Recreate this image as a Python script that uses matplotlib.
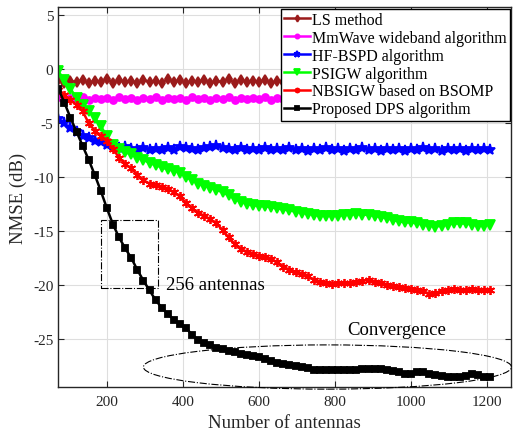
import numpy as np
import matplotlib
matplotlib.use("Agg")
from matplotlib import pyplot as plt
from matplotlib.patches import Rectangle, Ellipse

plt.rcParams['font.family'] = ['Liberation Serif', 'DejaVu Serif']
plt.rcParams['axes.unicode_minus'] = False

# number of antennas (one point every 16 antennas)
antennas = np.arange(72, 1209, 16)

ls_method = [
    -1.0, -1.3, -1.1, -1.2, -1.0, -1.3, -1.1, -1.2,
    -0.9, -1.3, -1.0, -1.2, -1.1, -1.3, -1.0, -1.2,
    -1.1, -1.3, -0.9, -1.2, -1.0, -1.3, -1.1, -1.2,
    -1.0, -1.3, -1.1, -1.2, -0.9, -1.3, -1.0, -1.2,
    -1.1, -1.2, -1.0, -1.3, -1.1, -1.2, -0.9, -1.3,
    -1.0, -1.2, -1.1, -1.3, -1.0, -1.2, -1.1, -1.3,
    -1.0, -1.2, -0.9, -1.3, -1.1, -1.2, -1.0, -1.3,
    -1.1, -1.2, -1.0, -1.3, -1.1, -1.2, -0.9, -1.3,
    -1.0, -1.2, -1.1, -1.3, -1.0, -1.2, -1.1, -1.2,
]
mmwave = [
    -2.6, -2.9, -2.7, -2.8, -2.6, -2.9, -2.7, -2.8,
    -2.7, -2.9, -2.6, -2.8, -2.7, -2.9, -2.7, -2.8,
    -2.6, -2.9, -2.7, -2.8, -2.7, -2.9, -2.6, -2.8,
    -2.7, -2.9, -2.7, -2.8, -2.6, -2.9, -2.7, -2.8,
    -2.7, -2.8, -2.6, -2.9, -2.7, -2.8, -2.7, -2.9,
    -2.6, -2.8, -2.7, -2.9, -2.7, -2.8, -2.6, -2.9,
    -2.7, -2.8, -2.7, -2.9, -2.6, -2.8, -2.7, -2.9,
    -2.7, -2.8, -2.6, -2.9, -2.7, -2.8, -2.7, -2.9,
    -2.6, -2.8, -2.7, -2.9, -2.7, -2.8, -2.6, -2.8,
]
hf_bspd = [
    -4.6, -5.0, -5.5, -5.8, -6.2, -6.4, -6.7, -6.8,
    -7.0, -7.1, -7.3, -7.2, -7.4, -7.5, -7.3, -7.5,
    -7.4, -7.5, -7.3, -7.5, -7.2, -7.3, -7.4, -7.5,
    -7.3, -7.2, -7.1, -7.3, -7.4, -7.5, -7.3, -7.5,
    -7.4, -7.5, -7.3, -7.5, -7.4, -7.5, -7.3, -7.5,
    -7.4, -7.6, -7.4, -7.5, -7.3, -7.5, -7.4, -7.6,
    -7.4, -7.5, -7.3, -7.5, -7.4, -7.6, -7.4, -7.5,
    -7.4, -7.6, -7.4, -7.5, -7.3, -7.5, -7.4, -7.6,
    -7.4, -7.5, -7.4, -7.6, -7.4, -7.5, -7.4, -7.5,
]
psigw = [
    -0.2, -1.0, -1.8, -2.7, -3.3, -3.9, -4.5, -5.3,
    -6.2, -7.0, -7.4, -7.7, -7.9, -8.2, -8.4, -8.7,
    -8.9, -9.1, -9.3, -9.4, -9.6, -10.0, -10.3, -10.6,
    -10.8, -11.0, -11.2, -11.4, -11.7, -12.0, -12.3, -12.5,
    -12.6, -12.7, -12.7, -12.8, -12.9, -13.0, -13.1, -13.2,
    -13.3, -13.4, -13.5, -13.6, -13.6, -13.6, -13.6, -13.5,
    -13.5, -13.4, -13.5, -13.5, -13.6, -13.7, -13.8, -14.0,
    -14.1, -14.2, -14.2, -14.3, -14.4, -14.5, -14.6, -14.5,
    -14.4, -14.3, -14.3, -14.3, -14.4, -14.5, -14.5, -14.4,
]
nbsigw = [
    -1.9, -2.4, -2.9, -3.3, -3.9, -5.0, -5.7, -6.2,
    -6.7, -7.4, -8.2, -8.8, -9.2, -9.8, -10.3, -10.6,
    -10.7, -10.9, -11.1, -11.4, -11.8, -12.4, -12.9, -13.3,
    -13.6, -13.9, -14.3, -14.9, -15.6, -16.2, -16.7, -16.9,
    -17.1, -17.3, -17.4, -17.6, -17.9, -18.3, -18.6, -18.8,
    -19.0, -19.2, -19.5, -19.7, -19.8, -19.9, -19.8, -19.8,
    -19.8, -19.7, -19.6, -19.5, -19.7, -19.8, -20.0, -20.1,
    -20.2, -20.3, -20.4, -20.5, -20.6, -20.8, -20.7, -20.6,
    -20.5, -20.4, -20.5, -20.5, -20.4, -20.5, -20.5, -20.5,
]
dps = [
    -1.8, -3.1, -4.5, -5.8, -7.1, -8.4, -9.8, -11.3,
    -12.9, -14.4, -15.6, -16.6, -17.5, -18.6, -19.6, -20.5,
    -21.4, -22.1, -22.7, -23.2, -23.6, -24.0, -24.6, -25.1,
    -25.4, -25.6, -25.8, -25.9, -26.1, -26.2, -26.4, -26.5,
    -26.6, -26.7, -26.9, -27.0, -27.2, -27.3, -27.4, -27.5,
    -27.6, -27.7, -27.9, -27.9, -27.9, -27.9, -27.9, -27.9,
    -27.9, -27.9, -27.8, -27.8, -27.8, -27.8, -27.9, -28.0,
    -28.1, -28.2, -28.2, -28.1, -28.1, -28.2, -28.3, -28.4,
    -28.5, -28.5, -28.5, -28.4, -28.2, -28.3, -28.5, -28.5,
]

labels = ['LS method', 'MmWave wideband algorithm', 'HF-BSPD algorithm',
          'PSIGW algorithm', 'NBSIGW based on BSOMP', 'Proposed DPS algorithm']
xticks = [200, 400, 600, 800, 1000, 1200]
yticks = [-25, -20, -15, -10, -5, 0, 5]

fig = plt.figure(figsize=(5.13, 4.31), dpi=100)
ax = fig.add_axes([57.5 / 513, 43 / 431, 454 / 513, 380 / 431])

series = [
    (ls_method, '#9b1b1b', 'd', 5.5),
    (mmwave, '#ff00ff', 'o', 5),
    (hf_bspd, '#0000ff', '*', 8),
    (psigw, '#00ff00', 'v', 6.5),
    (nbsigw, '#ff0000', (6, 2, 0), 6.5),
    (dps, 'black', 's', 4.8),
]
for (vals, c, m, ms), lab in zip(series, labels):
    ax.plot(antennas, vals, color=c, marker=m, markersize=ms, lw=1.8,
            markerfacecolor=c, markeredgecolor=c, markeredgewidth=1.3,
            label=lab)

# zoom box around 256 antennas and the convergence ellipse
ax.add_patch(Rectangle((184, -20.3), 149, 6.35, fill=False, ls='-.',
                       lw=0.8, ec='black', zorder=5))
ax.add_patch(Ellipse((780, -27.6), 968, 4.1, fill=False, ls='-.',
                     lw=0.8, ec='black', zorder=5, clip_on=False))
ax.text(356, -20.0, '256 antennas', fontsize=13.5, va='center', ha='left')
ax.text(962, -24.1, 'Convergence', fontsize=13.5, va='center', ha='center')

ax.set_xlim(70, 1264)
ax.set_ylim(-29.45, 5.75)
ax.set_xticks(xticks)
ax.set_yticks(yticks)
ax.grid(True, color='0.87', lw=0.8)
ax.set_axisbelow(True)
ax.tick_params(direction='in', top=True, right=True, length=4, width=0.8,
               labelsize=11, colors='0.15')
ax.tick_params(axis='x', pad=6)
ax.tick_params(axis='y', pad=3)
for s in ax.spines.values():
    s.set_color('0.15')
    s.set_linewidth(1.0)

ax.set_xlabel('Number of antennas', fontsize=13.5, labelpad=4, color='0.15')
ax.set_ylabel('NMSE (dB)', fontsize=13.5, labelpad=4, color='0.15')

leg = ax.legend(loc='upper right', fontsize=11.5, borderaxespad=0.1,
                handlelength=1.6, handletextpad=0.15, labelspacing=0.12,
                borderpad=0.2, fancybox=False, framealpha=1, edgecolor='black',
                markerscale=0.6)
leg.get_frame().set_linewidth(1.0)

fig.savefig('out.png', dpi=100)
